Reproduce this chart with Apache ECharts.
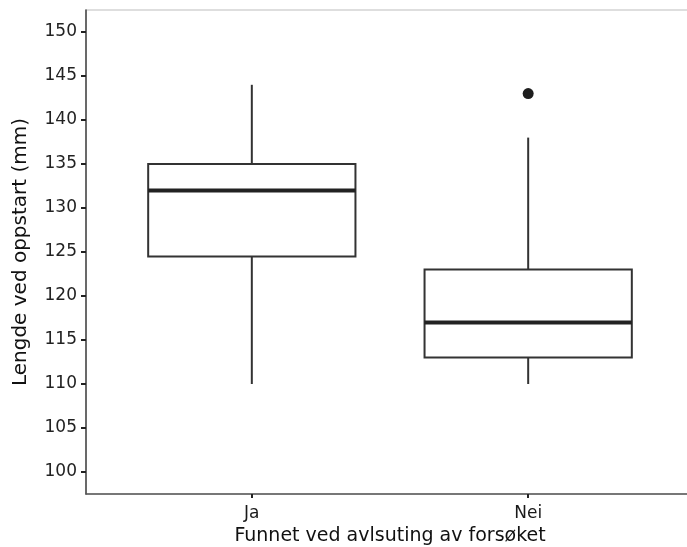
<!DOCTYPE html>
<html>
<head>
<meta charset="utf-8">
<script src="https://cdn.jsdelivr.net/npm/echarts@6/dist/echarts.min.js"></script>
<style>
html,body{margin:0;padding:0;background:#fff;}
#chart{width:687px;height:547px;}
</style>
</head>
<body>
<div id="chart"></div>
<script>
// ---- data ----
const categories = ['Ja', 'Nei'];
const whiskerLow = [110, 110];
const q1 = [124.5, 113];
const median = [132, 117];
const q3 = [135, 123];
const whiskerHigh = [144, 138];
const outliers = [['Nei', 143]];
const yTicks = [100, 105, 110, 115, 120, 125, 130, 135, 140, 145, 150];

// ---- build ----
const boxRows = categories.map((c, i) => [i + 1, whiskerLow[i], q1[i], median[i], q3[i], whiskerHigh[i]]);
const outlierPts = outliers.map(o => [categories.indexOf(o[0]) + 1, o[1]]);
const xPos = categories.map((c, i) => i + 1);

const BOX_HALF = 0.375;
const STROKE = '#333333';
const FONT = "'DejaVu Sans', 'Liberation Sans', Arial, sans-serif";

const chart = echarts.init(document.getElementById('chart'));
chart.setOption({
  animation: false,
  backgroundColor: '#ffffff',
  grid: {
    left: 86, top: 10, right: -7, bottom: 53,
    containLabel: false, outerBoundsMode: 'none',
    show: true, borderColor: '#bdbdbd', borderWidth: 1.2, backgroundColor: 'transparent'
  },
  xAxis: {
    type: 'value', min: 0.4, max: 2.6,
    name: 'Funnet ved avlsuting av forsøket',
    nameLocation: 'middle', nameGap: 29,
    nameTextStyle: { fontFamily: FONT, fontSize: 19, color: '#111' },
    axisLine: { show: true, lineStyle: { color: '#555', width: 1.5 } },
    axisTick: { show: true, customValues: xPos, length: 4, lineStyle: { color: '#222', width: 2 } },
    axisLabel: {
      customValues: xPos, margin: 11,
      fontFamily: FONT, fontSize: 17, color: '#1a1a1a',
      formatter: v => categories[Math.round(v) - 1] || ''
    },
    splitLine: { show: false }
  },
  yAxis: {
    type: 'value', min: 97.5, max: 152.5,
    name: 'Lengde ved oppstart (mm)',
    nameLocation: 'middle', nameGap: 55, nameRotate: 90,
    nameTextStyle: { fontFamily: FONT, fontSize: 20, color: '#111' },
    axisLine: { show: true, lineStyle: { color: '#444', width: 1.5 } },
    axisTick: { show: true, customValues: yTicks, length: 5, lineStyle: { color: '#222', width: 2 } },
    axisLabel: {
      customValues: yTicks, margin: 9,
      fontFamily: FONT, fontSize: 17, color: '#222'
    },
    splitLine: { show: false }
  },
  series: [
    {
      type: 'custom',
      data: boxRows,
      encode: { x: 0, y: [1, 2, 3, 4, 5] },
      renderItem: function (params, api) {
        const x = api.value(0);
        const lo = api.coord([x, api.value(1)]);
        const b1 = api.coord([x - BOX_HALF, api.value(2)]);
        const md = api.coord([x - BOX_HALF, api.value(3)]);
        const b3 = api.coord([x + BOX_HALF, api.value(4)]);
        const hi = api.coord([x, api.value(5)]);
        const c1 = api.coord([x, api.value(2)]);
        const c3 = api.coord([x, api.value(4)]);
        const ls = { stroke: STROKE, lineWidth: 2 };
        return {
          type: 'group',
          children: [
            { type: 'line', shape: { x1: lo[0], y1: lo[1], x2: c1[0], y2: c1[1] }, style: ls },
            { type: 'line', shape: { x1: c3[0], y1: c3[1], x2: hi[0], y2: hi[1] }, style: ls },
            { type: 'rect', shape: { x: b1[0], y: b3[1], width: b3[0] - b1[0], height: b1[1] - b3[1] },
              style: { fill: '#ffffff', stroke: STROKE, lineWidth: 2 } },
            { type: 'line', shape: { x1: md[0], y1: md[1], x2: b3[0], y2: md[1] },
              style: { stroke: '#222', lineWidth: 4 } }
          ]
        };
      }
    },
    {
      type: 'scatter',
      data: outlierPts,
      symbol: 'circle',
      symbolSize: 11,
      itemStyle: { color: '#1e1e1e', opacity: 1 }
    }
  ]
});
</script>
</body>
</html>
